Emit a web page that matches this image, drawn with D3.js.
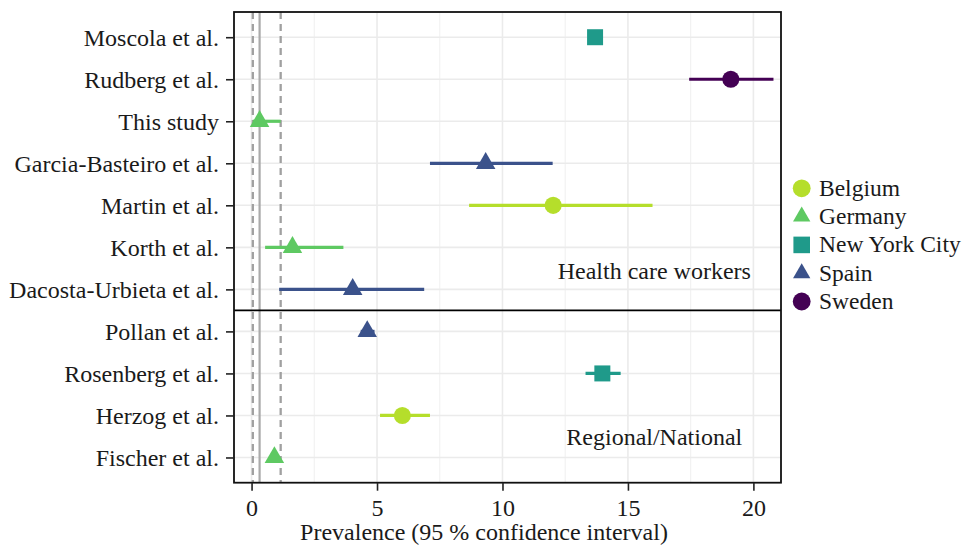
<!DOCTYPE html>
<html><head><meta charset="utf-8">
<script src="https://cdn.jsdelivr.net/npm/d3@7"></script>
<style>
body{margin:0;background:#fff}
text{font-family:"Liberation Serif","Times New Roman",Times,serif}
</style>
</head><body>
<svg id="c" width="963" height="545"></svg>
<script>
// ---- data ----
const studies = ["Moscola et al.","Rudberg et al.","This study","Garcia-Basteiro et al.","Martin et al.","Korth et al.","Dacosta-Urbieta et al.","Pollan et al.","Rosenberg et al.","Herzog et al.","Fischer et al."];
const countries = ["New York City","Sweden","Germany","Spain","Belgium","Germany","Spain","Spain","New York City","Belgium","Germany"];
const estimates = [13.69, 19.1, 0.32, 9.33, 12.02, 1.63, 4.03, 4.61, 13.98, 6.01, 0.91];
const lower     = [13.55, 17.44, 0.05, 7.11, 8.67, 0.54, 1.10, 4.35, 13.31, 5.12, 0.70];
const upper     = [13.85, 20.8, 1.16, 12.0, 15.98, 3.66, 6.88, 4.90, 14.71, 7.11, 1.10];
const groupLabels = ["Health care workers","Regional/National"];
const groupEnd = [6, 10]; // index of last study of each group
const legendCountries = ["Belgium","Germany","New York City","Spain","Sweden"];
const legendShapes = ["circle","triangle","square","triangle","circle"];
const legendColors = ["#b5de2b","#5ec962","#1f9a8a","#3b528b","#440154"];
const xTicks = [0,5,10,15,20];
const xMinor = [2.5,7.5,12.5,17.5];
const refLines = [0.05, 0.32, 1.16];
const refStyles = ["dashed","solid","dashed"];
const xTitle = "Prevalence (95 % confidence interval)";

// ---- layout ----
const svg = d3.select("#c");
const P = {l:234, r:781, t:12, b:482.7};
const x = d3.scaleLinear().domain([-0.7, 21.1]).range([P.l, P.r]);
const y = d3.scalePoint().domain(studies).range([P.t, P.b]).padding(0.6);
const colorOf = d3.scaleOrdinal().domain(legendCountries).range(legendColors);
const shapeOf = d3.scaleOrdinal().domain(legendCountries).range(legendShapes);
const symType = {circle:d3.symbolCircle, triangle:d3.symbolTriangle, square:d3.symbolSquare};
const symSize = {circle:230, triangle:165, square:256};
const legSize = {circle:250, triangle:130, square:275};

svg.append("rect").attr("width",963).attr("height",545).attr("fill","#fff");

const g = svg.append("g");
// minor grid
g.selectAll(".minor").data(xMinor).join("line")
  .attr("x1",d=>x(d)).attr("x2",d=>x(d)).attr("y1",P.t).attr("y2",P.b)
  .attr("stroke","#f2f2f2").attr("stroke-width",1.2);
// major grid
g.selectAll(".majx").data(xTicks).join("line")
  .attr("x1",d=>x(d)).attr("x2",d=>x(d)).attr("y1",P.t).attr("y2",P.b)
  .attr("stroke","#ebebeb").attr("stroke-width",1.6);
g.selectAll(".majy").data(studies).join("line")
  .attr("x1",P.l).attr("x2",P.r).attr("y1",d=>y(d)).attr("y2",d=>y(d))
  .attr("stroke","#ebebeb").attr("stroke-width",1.6);

// reference lines
g.selectAll(".ref").data(refLines).join("line")
  .attr("x1",d=>x(d)).attr("x2",d=>x(d)).attr("y1",P.t).attr("y2",P.b)
  .attr("stroke",(d,i)=>refStyles[i]==="dashed"?"#a0a0a0":"#aaaaaa")
  .attr("stroke-width",(d,i)=>refStyles[i]==="dashed"?2.3:2.2)
  .attr("stroke-dasharray",(d,i)=>refStyles[i]==="dashed"?"7,5":null);

// group divider
const step = y.step();
const divY = (y(studies[groupEnd[0]]) + y(studies[groupEnd[0]+1]))/2;
g.append("line").attr("x1",P.l).attr("x2",P.r).attr("y1",divY).attr("y2",divY)
  .attr("stroke","#000").attr("stroke-width",1.8);

// CI segments
g.selectAll(".ci").data(studies).join("line")
  .attr("x1",(d,i)=>x(lower[i])).attr("x2",(d,i)=>x(upper[i]))
  .attr("y1",d=>y(d)).attr("y2",d=>y(d))
  .attr("stroke",(d,i)=>colorOf(countries[i])).attr("stroke-width",3.2);

// points
g.selectAll(".pt").data(studies).join("path")
  .attr("transform",(d,i)=>`translate(${x(estimates[i])},${y(d)})`)
  .attr("d",(d,i)=>{const s=shapeOf(countries[i]);return d3.symbol().type(symType[s]).size(symSize[s])();})
  .attr("fill",(d,i)=>colorOf(countries[i]));

// group annotations
const annX = x(16.05);
g.append("text").attr("x",annX).attr("y",y(studies[groupEnd[0]]) - 0.25*step)
  .attr("text-anchor","middle").attr("font-size",24).attr("fill","#1a1a1a").text(groupLabels[0]);
g.append("text").attr("x",annX).attr("y",y(studies[groupEnd[1]]) - 0.3*step)
  .attr("text-anchor","middle").attr("font-size",24).attr("fill","#1a1a1a").text(groupLabels[1]);

// panel border
g.append("rect").attr("x",P.l).attr("y",P.t).attr("width",P.r-P.l).attr("height",P.b-P.t)
  .attr("fill","none").attr("stroke","#111").attr("stroke-width",1.8);

// axes
const ax = svg.append("g").attr("transform",`translate(${P.l},0)`)
  .call(d3.axisLeft(y).tickSize(8).tickPadding(7));
ax.select(".domain").remove();
ax.selectAll(".tick line").attr("stroke","#222").attr("stroke-width",1.6);
ax.selectAll(".tick text").attr("font-size",24).attr("fill","#1a1a1a")
  .attr("font-family","Liberation Serif, Times New Roman, serif").attr("dy","0.35em");

const bx = svg.append("g").attr("transform",`translate(0,${P.b})`)
  .call(d3.axisBottom(x).tickValues(xTicks).tickSize(8).tickPadding(8));
bx.select(".domain").remove();
bx.selectAll(".tick line").attr("stroke","#222").attr("stroke-width",1.6);
bx.selectAll(".tick text").attr("font-size",24).attr("fill","#1a1a1a")
  .attr("font-family","Liberation Serif, Times New Roman, serif");

svg.append("text").attr("x",484).attr("y",540).attr("text-anchor","middle")
  .attr("font-size",24).attr("fill","#1a1a1a").text(xTitle);

// legend
const lg = svg.append("g");
const legY0 = 188.3, legStep = 28.3;
legendCountries.forEach((c,i)=>{
  const s = legendShapes[i];
  lg.append("path").attr("transform",`translate(801.7,${legY0+i*legStep})`)
    .attr("d",d3.symbol().type(symType[s]).size(legSize[s])()).attr("fill",legendColors[i]);
  lg.append("text").attr("x",819).attr("y",legY0+i*legStep+7.5)
    .attr("font-size",23.5).attr("fill","#1a1a1a").text(c);
});
</script>
</body></html>
